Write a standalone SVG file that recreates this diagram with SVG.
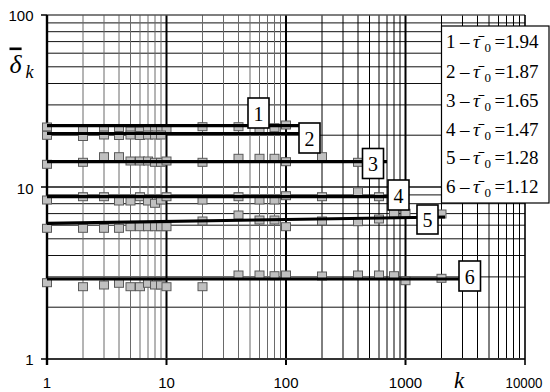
<svg xmlns="http://www.w3.org/2000/svg" xmlns:xlink="http://www.w3.org/1999/xlink" width="550" height="392" viewBox="0 0 550 392">
<style>
.vg{stroke:#6a6a6a;stroke-width:1}
.vk{stroke:#000;stroke-width:1}
.hg{stroke:#111;stroke-width:1}
.dec{stroke:#000;stroke-width:2}
.fit{stroke:#000;stroke-width:3.2;fill:none}
.box{fill:#fff;stroke:#000;stroke-width:1.6}
</style>
<defs>
<rect id="m" x="-4.5" y="-4" width="9" height="8" fill="#c0c0c0" stroke="#5a5a5a" stroke-width="1"/>
</defs>
<rect width="550" height="392" fill="#fff"/>
<g id="grid">
<g class="hg">
<line x1="47" y1="307.2" x2="525" y2="307.2"/><line x1="47" y1="276.9" x2="525" y2="276.9"/><line x1="47" y1="255.5" x2="525" y2="255.5"/><line x1="47" y1="238.8" x2="525" y2="238.8"/><line x1="47" y1="225.2" x2="525" y2="225.2"/><line x1="47" y1="213.6" x2="525" y2="213.6"/><line x1="47" y1="203.7" x2="525" y2="203.7"/><line x1="47" y1="194.9" x2="525" y2="194.9"/>
<line x1="47" y1="187" x2="525" y2="187" stroke-width="1.3"/>
<line x1="47" y1="135.2" x2="525" y2="135.2"/><line x1="47" y1="104.9" x2="525" y2="104.9"/><line x1="47" y1="83.5" x2="525" y2="83.5"/><line x1="47" y1="66.8" x2="525" y2="66.8"/><line x1="47" y1="53.2" x2="525" y2="53.2"/><line x1="47" y1="41.6" x2="525" y2="41.6"/><line x1="47" y1="31.7" x2="525" y2="31.7"/><line x1="47" y1="22.9" x2="525" y2="22.9"/>
</g>
<g class="vg">
<line x1="83" y1="15" x2="83" y2="359"/><line x1="104" y1="15" x2="104" y2="359"/><line x1="119" y1="15" x2="119" y2="359"/><line x1="130.5" y1="15" x2="130.5" y2="359"/><line x1="140" y1="15" x2="140" y2="359"/><line x1="148" y1="15" x2="148" y2="359"/><line x1="155" y1="15" x2="155" y2="359"/><line x1="161" y1="15" x2="161" y2="359"/>
<line x1="202.5" y1="15" x2="202.5" y2="359"/><line x1="223.5" y1="15" x2="223.5" y2="359"/><line x1="238.5" y1="15" x2="238.5" y2="359"/><line x1="250" y1="15" x2="250" y2="359"/><line x1="259.5" y1="15" x2="259.5" y2="359"/><line x1="267.5" y1="15" x2="267.5" y2="359"/><line x1="274.5" y1="15" x2="274.5" y2="359"/><line x1="280.5" y1="15" x2="280.5" y2="359"/>
</g>
<g class="vk">
<line x1="322" y1="15" x2="322" y2="359"/><line x1="343" y1="15" x2="343" y2="359"/><line x1="358" y1="15" x2="358" y2="359"/><line x1="369.5" y1="15" x2="369.5" y2="359"/><line x1="379" y1="15" x2="379" y2="359"/><line x1="387" y1="15" x2="387" y2="359"/><line x1="394" y1="15" x2="394" y2="359"/><line x1="400" y1="15" x2="400" y2="359"/>
<line x1="441.5" y1="15" x2="441.5" y2="359"/><line x1="462.5" y1="15" x2="462.5" y2="359"/><line x1="477.5" y1="15" x2="477.5" y2="359"/><line x1="489" y1="15" x2="489" y2="359"/><line x1="498.5" y1="15" x2="498.5" y2="359"/><line x1="506.5" y1="15" x2="506.5" y2="359"/><line x1="513.5" y1="15" x2="513.5" y2="359"/><line x1="519.5" y1="15" x2="519.5" y2="359"/>
</g>
<g class="dec">
<line x1="166.5" y1="15" x2="166.5" y2="359"/><line x1="286" y1="15" x2="286" y2="365"/><line x1="405.5" y1="15" x2="405.5" y2="365"/>
</g>
</g>
<g id="axes">
<line x1="47" y1="15" x2="525" y2="15" stroke="#555" stroke-width="1.5"/>
<line x1="47" y1="359" x2="525" y2="359" stroke="#333" stroke-width="1.8"/>
<line x1="525" y1="15" x2="525" y2="365" stroke="#000" stroke-width="1.6"/>
<line x1="47" y1="15" x2="47" y2="365" stroke="#000" stroke-width="2.4"/>
<line x1="166.5" y1="359" x2="166.5" y2="365" stroke="#000" stroke-width="2"/>
<line x1="41" y1="15" x2="47" y2="15" stroke="#000" stroke-width="1.5"/>
<line x1="41" y1="187" x2="47" y2="187" stroke="#000" stroke-width="1.5"/>
<line x1="41" y1="359" x2="47" y2="359" stroke="#000" stroke-width="1.5"/>
<g font-family="'Liberation Sans', Arial, sans-serif" font-size="15" fill="#000">
<text x="33.5" y="20.5" text-anchor="end">100</text>
<text x="33.5" y="193.5" text-anchor="end">10</text>
<text x="33.5" y="364.5" text-anchor="end">1</text>
<text x="47" y="388" text-anchor="middle">1</text>
<text x="166.5" y="388" text-anchor="middle">10</text>
<text x="286" y="388" text-anchor="middle">100</text>
<text x="405.5" y="388" text-anchor="middle">1000</text>
<text x="524" y="388" text-anchor="middle" textLength="37" lengthAdjust="spacingAndGlyphs">10000</text>
</g>
<g font-family="'Liberation Serif', 'Times New Roman', serif" fill="#000">
<text x="454" y="388" font-size="23" font-style="italic">k</text>
<text x="9.5" y="72.5" font-size="26" font-style="italic"><tspan style="text-decoration:overline">δ</tspan><tspan x="25.5" y="78" font-size="18">k</tspan></text>
</g>
</g>
<g id="markers">
<g id="s1">
<use xlink:href="#m" x="47" y="127"/><use xlink:href="#m" x="83" y="130"/><use xlink:href="#m" x="104" y="130.5"/><use xlink:href="#m" x="119" y="130.5"/><use xlink:href="#m" x="130.5" y="131"/><use xlink:href="#m" x="140" y="131"/><use xlink:href="#m" x="148" y="130.5"/><use xlink:href="#m" x="155" y="130.5"/><use xlink:href="#m" x="161" y="130.5"/><use xlink:href="#m" x="166.5" y="129"/><use xlink:href="#m" x="202.5" y="126.7"/><use xlink:href="#m" x="238.5" y="126.7"/><use xlink:href="#m" x="259.5" y="130"/><use xlink:href="#m" x="274.5" y="127.7"/><use xlink:href="#m" x="286" y="125"/>
</g>
<g id="s2">
<use xlink:href="#m" x="47" y="135.3"/><use xlink:href="#m" x="83" y="136.5"/><use xlink:href="#m" x="104" y="135"/><use xlink:href="#m" x="119" y="135.5"/><use xlink:href="#m" x="130.5" y="135"/><use xlink:href="#m" x="140" y="135.5"/><use xlink:href="#m" x="148" y="135"/><use xlink:href="#m" x="155" y="135"/><use xlink:href="#m" x="161" y="135"/>
</g>
<g id="s3">
<use xlink:href="#m" x="47" y="164.3"/><use xlink:href="#m" x="83" y="162.3"/><use xlink:href="#m" x="104" y="156.7"/><use xlink:href="#m" x="119" y="156.7"/><use xlink:href="#m" x="130.5" y="161"/><use xlink:href="#m" x="140" y="161"/><use xlink:href="#m" x="148" y="161"/><use xlink:href="#m" x="155" y="162.3"/><use xlink:href="#m" x="161" y="162.3"/><use xlink:href="#m" x="166.5" y="161"/><use xlink:href="#m" x="202.5" y="162.3"/><use xlink:href="#m" x="238.5" y="158.3"/><use xlink:href="#m" x="259.5" y="158.3"/><use xlink:href="#m" x="274.5" y="158.3"/><use xlink:href="#m" x="286" y="161.7"/><use xlink:href="#m" x="322" y="156.7"/><use xlink:href="#m" x="358" y="162.3"/>
</g>
<g id="s4">
<use xlink:href="#m" x="47" y="200"/><use xlink:href="#m" x="83" y="196.7"/><use xlink:href="#m" x="104" y="196.7"/><use xlink:href="#m" x="119" y="201"/><use xlink:href="#m" x="130.5" y="201"/><use xlink:href="#m" x="140" y="196.7"/><use xlink:href="#m" x="148" y="201"/><use xlink:href="#m" x="155" y="203.3"/><use xlink:href="#m" x="161" y="200"/><use xlink:href="#m" x="166.5" y="196.7"/><use xlink:href="#m" x="202.5" y="200"/><use xlink:href="#m" x="238.5" y="196.7"/><use xlink:href="#m" x="259.5" y="200"/><use xlink:href="#m" x="274.5" y="200"/><use xlink:href="#m" x="286" y="195.7"/><use xlink:href="#m" x="322" y="196.7"/><use xlink:href="#m" x="358" y="191.7"/><use xlink:href="#m" x="379" y="196.7"/>
</g>
<g id="s5">
<use xlink:href="#m" x="47" y="228.3"/><use xlink:href="#m" x="83" y="228.3"/><use xlink:href="#m" x="104" y="228.3"/><use xlink:href="#m" x="119" y="228.3"/><use xlink:href="#m" x="130.5" y="226.7"/><use xlink:href="#m" x="140" y="226.7"/><use xlink:href="#m" x="148" y="226.7"/><use xlink:href="#m" x="155" y="226.7"/><use xlink:href="#m" x="161" y="226.7"/><use xlink:href="#m" x="166.5" y="226.7"/><use xlink:href="#m" x="202.5" y="221"/><use xlink:href="#m" x="238.5" y="215"/><use xlink:href="#m" x="259.5" y="220"/><use xlink:href="#m" x="274.5" y="220"/><use xlink:href="#m" x="286" y="226.7"/><use xlink:href="#m" x="322" y="221"/><use xlink:href="#m" x="358" y="221.7"/><use xlink:href="#m" x="379" y="219"/><use xlink:href="#m" x="394" y="213.3"/><use xlink:href="#m" x="405.5" y="213.3"/><use xlink:href="#m" x="441.5" y="214"/>
</g>
<g id="s6">
<use xlink:href="#m" x="47" y="282.7"/><use xlink:href="#m" x="83" y="286.7"/><use xlink:href="#m" x="104" y="285"/><use xlink:href="#m" x="119" y="283.3"/><use xlink:href="#m" x="130.5" y="286.7"/><use xlink:href="#m" x="140" y="286.7"/><use xlink:href="#m" x="148" y="283.3"/><use xlink:href="#m" x="155" y="285"/><use xlink:href="#m" x="161" y="285"/><use xlink:href="#m" x="166.5" y="286.7"/><use xlink:href="#m" x="202.5" y="286.7"/><use xlink:href="#m" x="238.5" y="275"/><use xlink:href="#m" x="259.5" y="275"/><use xlink:href="#m" x="274.5" y="275.7"/><use xlink:href="#m" x="286" y="275"/><use xlink:href="#m" x="322" y="276"/><use xlink:href="#m" x="358" y="275"/><use xlink:href="#m" x="379" y="275"/><use xlink:href="#m" x="394" y="275.7"/><use xlink:href="#m" x="405.5" y="280.7"/><use xlink:href="#m" x="441.5" y="278.3"/>
</g>
</g>
<g id="connectors">
<line class="fit" x1="47" y1="125.7" x2="305" y2="125.7"/>
<line class="fit" x1="47" y1="133.5" x2="300" y2="133.5"/>
<line class="fit" x1="47" y1="161.7" x2="387" y2="161.7"/>
<line class="fit" x1="47" y1="196.7" x2="390" y2="196.7"/>
<line class="fit" x1="47" y1="223.3" x2="445" y2="217"/>
<line class="fit" x1="47" y1="279" x2="460" y2="279"/>
</g>
<g font-family="'Liberation Serif', 'Times New Roman', serif" font-size="20" text-anchor="middle" fill="#000">
<g id="label-1"><rect class="box" x="248" y="98" width="21" height="30"/><text x="258.5" y="120.5">1</text></g>
<g id="label-2"><rect class="box" x="299" y="123" width="21" height="30"/><text x="309.5" y="145.5">2</text></g>
<g id="label-3"><rect class="box" x="362.5" y="148.5" width="21" height="30"/><text x="373" y="171">3</text></g>
<g id="label-4"><rect class="box" x="388" y="180" width="21" height="30"/><text x="398.5" y="202.5">4</text></g>
<g id="label-5"><rect class="box" x="417" y="205" width="21" height="29"/><text x="427.5" y="227">5</text></g>
<g id="label-6"><rect class="box" x="459" y="261" width="21.5" height="30"/><text x="469.7" y="283.5">6</text></g>
</g>
<g id="legend" font-family="'Liberation Serif', 'Times New Roman', serif" font-size="19" fill="#000">
<rect x="441.5" y="26" width="107.5" height="177" fill="#fff" stroke="#000" stroke-width="1.2"/>
<text y="48.3"><tspan x="446">1</tspan><tspan x="460">–</tspan><tspan x="473" font-style="italic">τ̄</tspan><tspan x="484.5" font-size="13" dy="4">0</tspan><tspan x="494.5" dy="-4">=1.94</tspan></text>
<text y="77.5"><tspan x="446">2</tspan><tspan x="460">–</tspan><tspan x="473" font-style="italic">τ̄</tspan><tspan x="484.5" font-size="13" dy="4">0</tspan><tspan x="494.5" dy="-4">=1.87</tspan></text>
<text y="106.7"><tspan x="446">3</tspan><tspan x="460">–</tspan><tspan x="473" font-style="italic">τ̄</tspan><tspan x="484.5" font-size="13" dy="4">0</tspan><tspan x="494.5" dy="-4">=1.65</tspan></text>
<text y="135.7"><tspan x="446">4</tspan><tspan x="460">–</tspan><tspan x="473" font-style="italic">τ̄</tspan><tspan x="484.5" font-size="13" dy="4">0</tspan><tspan x="494.5" dy="-4">=1.47</tspan></text>
<text y="164.3"><tspan x="446">5</tspan><tspan x="460">–</tspan><tspan x="473" font-style="italic">τ̄</tspan><tspan x="484.5" font-size="13" dy="4">0</tspan><tspan x="494.5" dy="-4">=1.28</tspan></text>
<text y="192.7"><tspan x="446">6</tspan><tspan x="460">–</tspan><tspan x="473" font-style="italic">τ̄</tspan><tspan x="484.5" font-size="13" dy="4">0</tspan><tspan x="494.5" dy="-4">=1.12</tspan></text>
</g>
</svg>
